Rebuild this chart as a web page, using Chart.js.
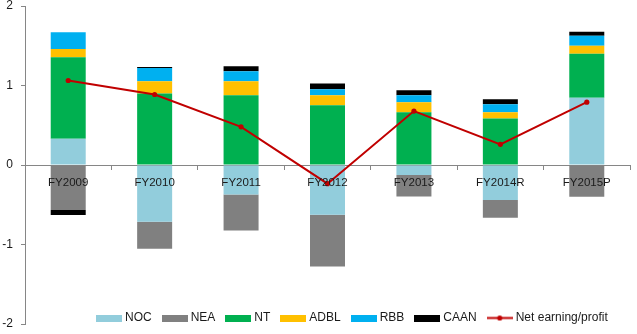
<!DOCTYPE html>
<html>
<head>
<meta charset="utf-8">
<script src="https://cdn.jsdelivr.net/npm/chart.js@4"></script>
<style>
html,body{margin:0;padding:0;background:#fff;}
#wrap{width:637px;height:334px;}
</style>
</head>
<body>
<div id="wrap"><canvas id="c" width="637" height="334"></canvas></div>
<script>
const categories = ['FY2009','FY2010','FY2011','FY2012','FY2013','FY2014R','FY2015P'];
const noc  = [0.33, -0.715, -0.372, -0.627, -0.125, -0.44, 0.845];
const nea  = [-0.565, -0.34, -0.453, -0.649, -0.27, -0.225, -0.398];
const nt   = [1.025, 0.90, 0.878, 0.753, 0.665, 0.585, 0.555];
const adbl = [0.105, 0.155, 0.176, 0.125, 0.125, 0.08, 0.10];
const rbb  = [0.21, 0.165, 0.126, 0.076, 0.088, 0.10, 0.127];
const caan = [-0.063, 0.013, 0.062, 0.071, 0.062, 0.063, 0.05];
const net  = [1.063, 0.887, 0.48, -0.235, 0.678, 0.26, 0.79];
const yTicks = [-2, -1, 0, 1, 2];

const FONT = "'Liberation Sans', Arial, sans-serif";
const AXIS = '#868686';
const TEXT = '#1a1a1a';
const LEG_FONT = 12, LEG_PAD = 13, LEG_CENTER_Y = 318, LEG_FIRST_X = 96;

function swatch(color, isLine) {
  const cv = document.createElement('canvas');
  cv.width = 26; cv.height = 7;
  const g = cv.getContext('2d');
  if (isLine) {
    g.strokeStyle = color; g.lineWidth = 2;
    g.beginPath(); g.moveTo(0, 3.5); g.lineTo(26, 3.5); g.stroke();
    g.fillStyle = color; g.beginPath(); g.arc(13, 3.5, 2.6, 0, Math.PI * 2); g.fill();
  } else {
    g.fillStyle = color; g.fillRect(0, 0, 26, 7);
  }
  return cv;
}

function bar(label, data, color) {
  return { type: 'bar', label, data, backgroundColor: color, borderWidth: 0,
           stack: 's', order: 1, categoryPercentage: 0.405, barPercentage: 1,
           pointStyle: swatch(color, false) };
}

const legendShift = {
  id: 'legendShift',
  afterInit(chart) {
    const lg = chart.legend;
    const fit = lg.fit.bind(lg);
    lg.fit = function () { fit(); this._h = this.height; this.height = 0; };
  },
  afterLayout(chart) {
    const lg = chart.legend;
    const w = lg.right - lg.left;
    lg.top = LEG_CENTER_Y - LEG_PAD - LEG_FONT / 2;
    lg.height = lg._h; lg.bottom = lg.top + lg._h;
    lg.left = LEG_FIRST_X + 3 - LEG_PAD; lg.right = lg.left + w;
  }
};

// draw the category labels on top of the bars, as in the reference
const labelsOnTop = {
  id: 'labelsOnTop',
  beforeDraw(chart) {
    const x = chart.scales.x;
    if (x && !x._origDrawLabels) {
      x._origDrawLabels = x.drawLabels;
      x.drawLabels = function () {};
    }
  },
  afterDatasetsDraw(chart) {
    const x = chart.scales.x;
    if (x && x._origDrawLabels) x._origDrawLabels.call(x, chart.chartArea);
  }
};

function noPad(s) { s.paddingTop = 0; s.paddingBottom = 0; s.paddingLeft = 0; s.paddingRight = 0; }

new Chart(document.getElementById('c'), {
  data: {
    labels: categories,
    datasets: [
      bar('NOC', noc, '#92CDDC'),
      bar('NEA', nea, '#808080'),
      bar('NT', nt, '#00B050'),
      bar('ADBL', adbl, '#FFC000'),
      bar('RBB', rbb, '#00B0F0'),
      bar('CAAN', caan, '#000000'),
      { type: 'line', label: 'Net earning/profit', data: net, stack: 'net', order: 0,
        borderColor: '#C00000', backgroundColor: '#C00000', borderWidth: 2,
        pointRadius: 2.6, pointBackgroundColor: '#C00000', pointBorderWidth: 0,
        tension: 0, pointStyle: 'circle' }
    ]
  },
  options: {
    responsive: false,
    animation: false,
    devicePixelRatio: 1,
    layout: { padding: { top: 6, bottom: 10, left: 0, right: 7 } },
    plugins: {
      tooltip: { enabled: false },
      legend: {
        display: true, position: 'bottom', align: 'start',
        labels: {
          font: { family: FONT, size: LEG_FONT }, color: TEXT,
          usePointStyle: true, pointStyleWidth: 20, boxHeight: 7, padding: LEG_PAD,
          sort: (a, b) => a.datasetIndex - b.datasetIndex,
          generateLabels(chart) {
            return chart.data.datasets.map((ds, i) => ({
              text: ds.label, datasetIndex: i, fillStyle: ds.backgroundColor,
              strokeStyle: ds.backgroundColor, lineWidth: 0, hidden: false,
              fontColor: TEXT,
              pointStyle: ds.type === 'line' ? swatch('#C00000', true) : ds.pointStyle
            }));
          }
        }
      }
    },
    scales: {
      x: {
        position: { y: 0 },
        afterFit: noPad,
        grid: { display: true, drawOnChartArea: false, drawTicks: true, tickLength: 4,
                color: AXIS, offset: true },
        border: { display: true, color: AXIS, width: 1 },
        ticks: { font: { family: FONT, size: 11.5 }, color: TEXT, padding: 7, maxRotation: 0, autoSkip: false }
      },
      y: {
        stacked: true, min: -2, max: 2,
        afterFit(s) { s.width = 25; noPad(s); },
        afterBuildTicks(s) { s.ticks = yTicks.map(v => ({ value: v })); },
        grid: { display: true, drawOnChartArea: false, drawTicks: true, tickLength: 4, color: AXIS },
        border: { display: true, color: AXIS, width: 1 },
        ticks: { font: { family: FONT, size: 12 }, color: TEXT, padding: 8 }
      }
    }
  },
  plugins: [legendShift, labelsOnTop]
});
</script>
</body>
</html>
